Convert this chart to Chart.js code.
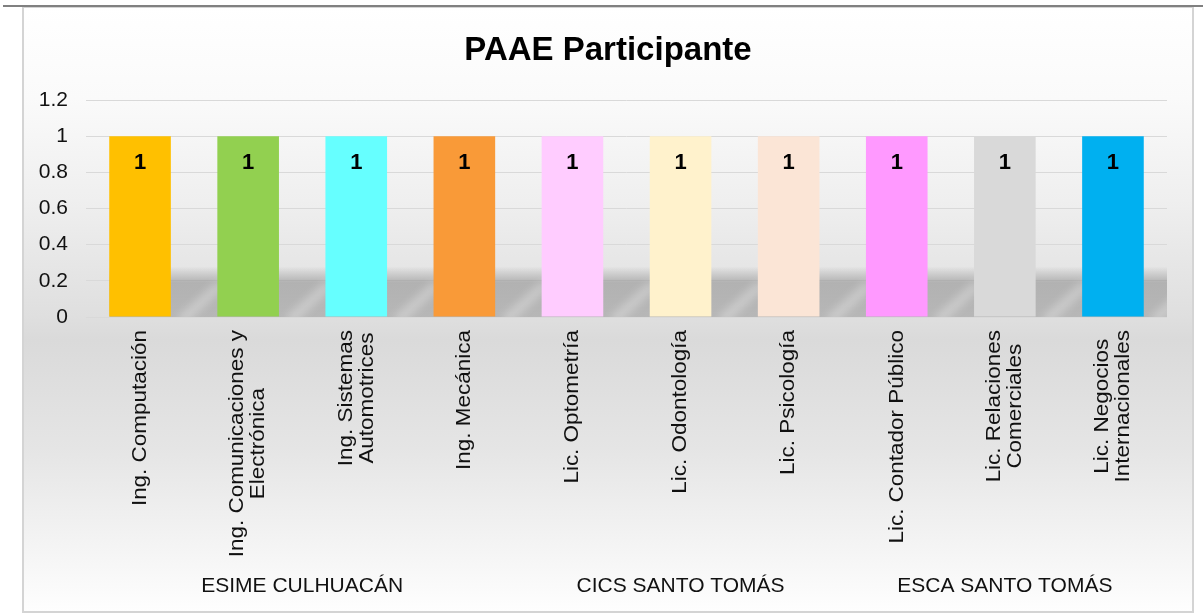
<!DOCTYPE html>
<html>
<head>
<meta charset="utf-8">
<script src="https://cdn.jsdelivr.net/npm/chart.js@4/dist/chart.umd.min.js"></script>
<style>
  html, body { margin: 0; padding: 0; background: #fff; }
  canvas { display: block; }
</style>
</head>
<body>
<canvas id="chart" width="1203" height="616"></canvas>
<script>
const chartTitle = "PAAE Participante";
const categories = [
  "Ing. Computación",
  ["Ing. Comunicaciones y", "Electrónica"],
  ["Ing. Sistemas", "Automotrices"],
  "Ing. Mecánica",
  "Lic. Optometría",
  "Lic. Odontología",
  "Lic. Psicología",
  "Lic. Contador Público",
  ["Lic. Relaciones", "Comerciales"],
  ["Lic. Negocios", "Internacionales"]
];
const values = [1, 1, 1, 1, 1, 1, 1, 1, 1, 1];
const groupNames = ["ESIME CULHUACÁN", "CICS SANTO TOMÁS", "ESCA SANTO TOMÁS"];
const groupSizes = [4, 3, 3];
const barColors = [
  "#FFC000", "#92D050", "#66FFFF", "#F99A38", "#FFCCFF",
  "#FFF2CC", "#FBE5D6", "#FF99FF", "#D9D9D9", "#00B0F0"
];

const FONT = "'Liberation Sans', Arial, sans-serif";

// frame + gradient background of the chart box, and the title
const framePlugin = {
  id: "frame",
  beforeDraw(chart) {
    const ctx = chart.ctx;
    ctx.save();
    const g = ctx.createLinearGradient(0, 7, 0, 612);
    g.addColorStop(0, "#ffffff");
    g.addColorStop(0.15, "#fafafa");
    g.addColorStop(0.32, "#efefef");
    g.addColorStop(0.51, "#dfdfdf");
    g.addColorStop(0.55, "#dadada");
    g.addColorStop(0.73, "#e5e5e5");
    g.addColorStop(0.88, "#f3f3f3");
    g.addColorStop(1, "#fefefe");
    ctx.fillStyle = g;
    ctx.fillRect(23, 7, 1170, 605);
    ctx.strokeStyle = "#d4d4d4";
    ctx.lineWidth = 2;
    ctx.strokeRect(23, 7, 1170, 605);
    ctx.strokeStyle = "#808080";
    ctx.beginPath();
    ctx.moveTo(3, 6);
    ctx.lineTo(1203, 6);
    ctx.stroke();

    ctx.fillStyle = "#000";
    ctx.font = "bold 33px " + FONT;
    ctx.textAlign = "center";
    ctx.textBaseline = "middle";
    ctx.fillText(chartTitle, 608, 51);
    ctx.restore();
  }
};

// soft floor shadow behind the bars
const shadowPlugin = {
  id: "floorShadow",
  beforeDatasetsDraw(chart) {
    const ctx = chart.ctx;
    const area = chart.chartArea;
    const y = chart.scales.y;
    const bars = chart.getDatasetMeta(0).data;
    const yTop = y.getPixelForValue(0.28);
    const yMid = y.getPixelForValue(0.19);
    const yBot = y.getPixelForValue(0);
    const x0 = bars[0].x - bars[0].width / 2;
    ctx.save();
    ctx.beginPath();
    ctx.rect(x0, area.top, area.right - x0, area.bottom - area.top);
    ctx.clip();
    const g = ctx.createLinearGradient(0, yTop, 0, yBot);
    g.addColorStop(0, "rgba(0,0,0,0)");
    g.addColorStop((yMid - yTop) / (yBot - yTop), "rgba(0,0,0,0.22)");
    g.addColorStop(1, "rgba(0,0,0,0.18)");
    ctx.fillStyle = g;
    ctx.fillRect(x0, yTop, area.right - x0, yBot - yTop);
    ctx.filter = "blur(4px)";
    ctx.strokeStyle = "rgba(255,255,255,0.3)";
    ctx.lineWidth = 10;
    bars.forEach(function (bar) {
      const right = bar.x + bar.width / 2;
      ctx.beginPath();
      ctx.moveTo(right + 10, yBot + 4);
      ctx.lineTo(right + 50, yMid + 2);
      ctx.stroke();
    });
    ctx.restore();
  }
};

// value labels, rotated category labels and group labels
const labelPlugin = {
  id: "labels",
  afterDatasetsDraw(chart) {
    const ctx = chart.ctx;
    const xs = chart.scales.x;
    const bars = chart.getDatasetMeta(0).data;
    ctx.save();
    ctx.fillStyle = "#000";
    ctx.font = "bold 22px " + FONT;
    ctx.textAlign = "center";
    ctx.textBaseline = "middle";
    bars.forEach(function (bar, i) {
      ctx.fillText(String(values[i]), bar.x, bar.y + 27);
    });

    ctx.font = "21px " + FONT;
    ctx.fillStyle = "#111";
    categories.forEach(function (label, i) {
      const lines = Array.isArray(label) ? label : [label];
      const widths = lines.map(function (l) { return ctx.measureText(l).width; });
      const maxW = Math.max.apply(null, widths);
      ctx.save();
      ctx.translate(xs.getPixelForValue(i), xs.top + 13);
      ctx.rotate(-Math.PI / 2);
      ctx.scale(1.07, 1);
      ctx.textAlign = "center";
      lines.forEach(function (l, j) {
        ctx.fillText(l, -maxW / 2, (j - (lines.length - 1) / 2) * 21);
      });
      ctx.restore();
    });

    let start = 0;
    groupNames.forEach(function (name, g) {
      const end = start + groupSizes[g] - 1;
      const cx = (xs.getPixelForValue(start) + xs.getPixelForValue(end)) / 2;
      ctx.fillText(name, cx, 586);
      start = end + 1;
    });
    ctx.restore();
  }
};

new Chart(document.getElementById("chart"), {
  type: "bar",
  data: {
    labels: categories,
    datasets: [
      {
        label: chartTitle,
        data: values,
        backgroundColor: barColors,
        borderWidth: 0,
        barPercentage: 0.57,
        categoryPercentage: 1
      }
    ]
  },
  options: {
    responsive: false,
    animation: false,
    layout: { padding: { left: 24, right: 36, top: 100, bottom: 0 } },
    plugins: {
      legend: { display: false },
      tooltip: { enabled: false },
      title: { display: false }
    },
    scales: {
      x: {
        grid: { display: false },
        border: { display: false },
        ticks: { display: false },
        afterFit: function (scale) { scale.height = 299; }
      },
      y: {
        min: 0,
        max: 1.2,
        grid: { color: "#d9d9d9", drawTicks: false },
        border: { display: false },
        ticks: {
          stepSize: 0.2,
          padding: 18,
          color: "#111",
          font: { family: FONT, size: 21 },
          callback: function (v) { return Math.round(v * 10) / 10; }
        },
        afterFit: function (scale) { scale.width = 62; }
      }
    }
  },
  plugins: [framePlugin, shadowPlugin, labelPlugin]
});
</script>
</body>
</html>
